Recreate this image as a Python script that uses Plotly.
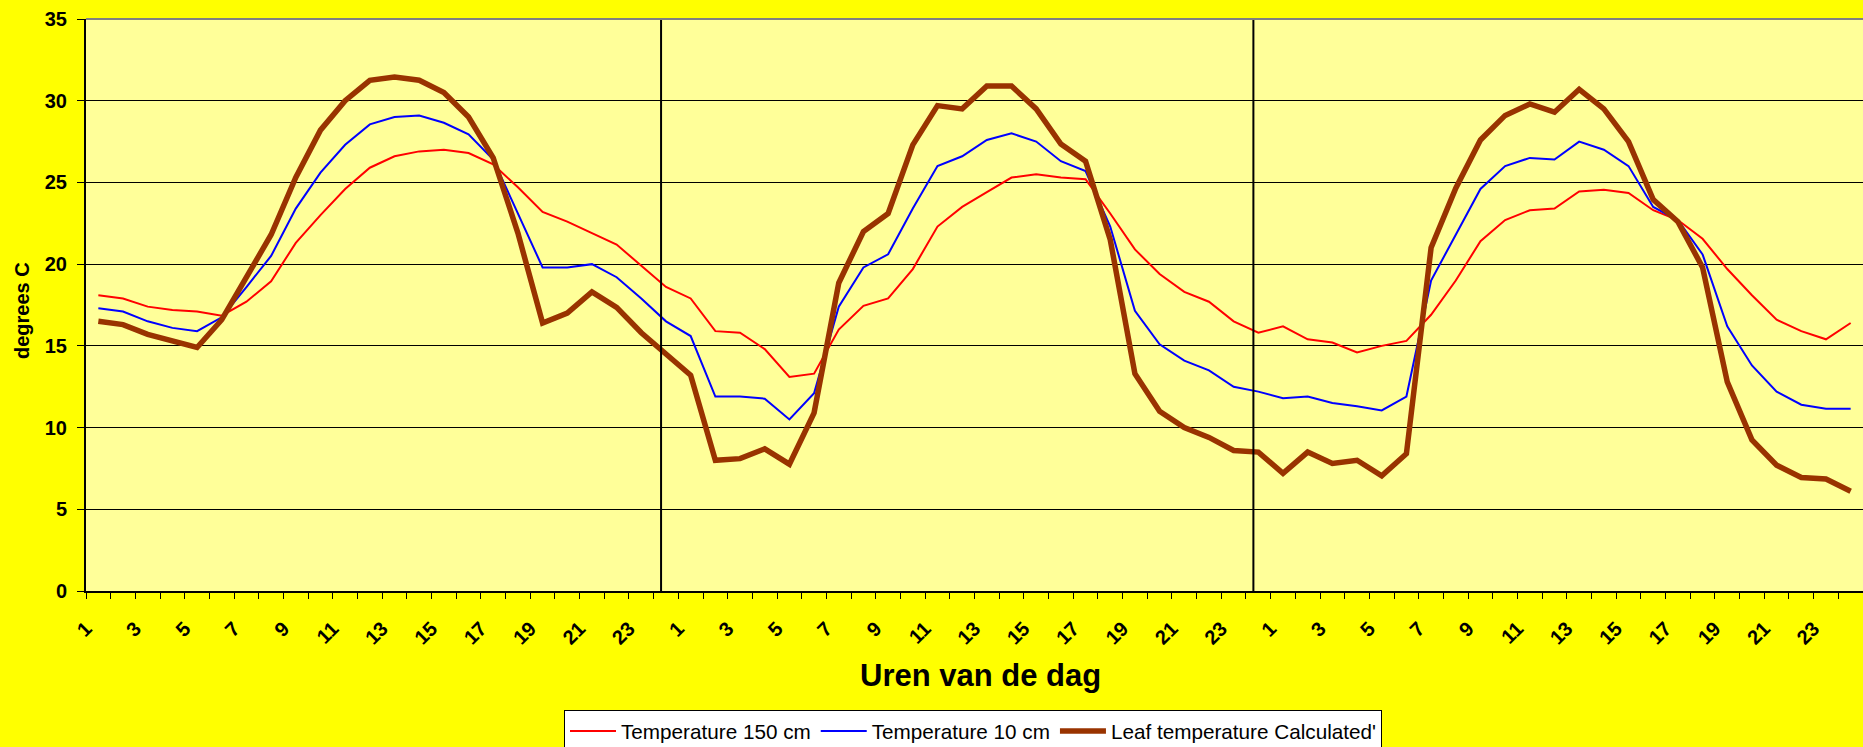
import plotly.graph_objects as go

# ---------------- data ----------------
hours = list(range(1, 25)) * 3  # three days, hourly

temp_150cm = [
    18.1, 17.9, 17.4, 17.2, 17.1, 16.85, 17.7, 18.95, 21.3, 23.0, 24.6, 25.9,
    26.6, 26.9, 27.0, 26.8, 26.1, 24.7, 23.2, 22.6, 21.9, 21.2, 19.9, 18.6,
    17.9, 15.9, 15.8, 14.8, 13.1, 13.3, 16.0, 17.45, 17.9, 19.7, 22.3, 23.5,
    24.4, 25.3, 25.5, 25.3, 25.2, 23.1, 20.9, 19.4, 18.3, 17.7, 16.5, 15.8,
    16.2, 15.4, 15.2, 14.6, 15.0, 15.3, 16.9, 19.0, 21.4, 22.7, 23.3, 23.4,
    24.45, 24.55, 24.35, 23.3, 22.7, 21.55, 19.7, 18.1, 16.6, 15.9, 15.4, 16.4,
]

temp_10cm = [
    17.3, 17.1, 16.5, 16.1, 15.9, 16.75, 18.6, 20.5, 23.4, 25.6, 27.3, 28.55,
    29.0, 29.1, 28.65, 27.95, 26.4, 23.1, 19.8, 19.8, 20.0, 19.2, 17.9, 16.5,
    15.6, 11.9, 11.9, 11.77, 10.5, 12.1, 17.4, 19.8, 20.6, 23.4, 26.0, 26.6,
    27.6, 28.0, 27.5, 26.3, 25.7, 22.3, 17.15, 15.1, 14.1, 13.5, 12.5, 12.2,
    11.8, 11.9, 11.5, 11.3, 11.05, 11.9, 19.0, 21.8, 24.6, 26.0, 26.5, 26.4,
    27.5, 27.0, 26.0, 23.5, 22.7, 20.6, 16.2, 13.8, 12.2, 11.4, 11.15, 11.15,
]

leaf_temp = [
    16.5, 16.3, 15.7, 15.26, 14.9, 16.6, 19.2, 21.8, 25.3, 28.2, 30.0, 31.25,
    31.45, 31.25, 30.5, 29.0, 26.5, 21.9, 16.4, 17.0, 18.3, 17.35, 15.8, 14.5,
    13.2, 8.0, 8.1, 8.7, 7.76, 10.9, 18.85, 22.0, 23.1, 27.3, 29.7, 29.5,
    30.9, 30.9, 29.5, 27.35, 26.3, 21.5, 13.3, 11.0, 10.0, 9.4, 8.6, 8.5,
    7.2, 8.5, 7.8, 8.0, 7.05, 8.4, 21.0, 24.65, 27.6, 29.1, 29.8, 29.3,
    30.7, 29.5, 27.5, 23.95, 22.6, 19.8, 12.8, 9.25, 7.7, 6.95, 6.85, 6.1,
]

series_names = ["Temperature 150 cm", "Temperature 10 cm", "Leaf temperature Calculated'"]
y_ticks = [0, 5, 10, 15, 20, 25, 30, 35]
day_starts = [24, 48]

# ---------------- figure ----------------
W, H = 1863, 747
FONT = "Liberation Sans, Arial, sans-serif"
x = list(range(len(hours)))

fig = go.Figure()
styles = [("#FF0000", 2), ("#0000FF", 2), ("#993300", 5.5)]
for name, vals, (col, w) in zip(series_names, [temp_150cm, temp_10cm, leaf_temp], styles):
    fig.add_trace(go.Scatter(x=x, y=vals, mode="lines", name=name,
                             line=dict(color=col, width=w)))

n = len(hours)
fig.update_xaxes(
    range=[-0.5, n - 0.5],
    tickmode="array",
    tickvals=[i - 0.5 for i in range(0, n, 2)],
    ticktext=[str(h) for h in hours[::2]],
    tickangle=-45,
    tickfont=dict(family=FONT, size=20, color="black", weight="bold"),
    ticks="outside", ticklen=6, tickcolor="black", tickwidth=1,
    ticklabelstandoff=10,
    minor=dict(tickvals=[i - 0.5 for i in range(n + 1)], ticks="outside",
               ticklen=6, tickcolor="black", tickwidth=1, showgrid=False),
    showgrid=False, zeroline=False,
    showline=True, linecolor="black", linewidth=2,
)
fig.update_yaxes(
    range=[0, 35],
    tickmode="array", tickvals=y_ticks,
    tickfont=dict(family=FONT, size=20, color="black", weight="bold"),
    ticks="outside", ticklen=7, tickcolor="black",
    ticklabelstandoff=6,
    showgrid=True, gridcolor="black", gridwidth=1,
    zeroline=False,
    showline=True, linecolor="black", linewidth=2,
)

shapes = []
for d in day_starts:
    shapes.append(dict(type="line", xref="x", yref="paper", x0=d - 1.2, x1=d - 1.2,
                       y0=0, y1=1, line=dict(color="black", width=2)))
shapes.append(dict(type="line", xref="paper", yref="paper", x0=0, x1=1, y0=1, y1=1,
                   line=dict(color="#808080", width=2)))

annotations = [
    dict(text="Uren van de dag", xref="paper", yref="paper",
         x=(980 - 86) / (W - 86), y=-(675 - 591) / (591 - 19),
         xanchor="center", yanchor="middle", showarrow=False,
         font=dict(family=FONT, size=31, color="black", weight="bold")),
    dict(text="degrees C", xref="paper", yref="paper",
         x=-(86 - 22) / (W - 86), y=(591 - 311) / (591 - 19),
         xanchor="center", yanchor="middle", showarrow=False, textangle=-90,
         font=dict(family=FONT, size=20, color="black", weight="bold")),
]

fig.update_layout(
    width=W, height=H,
    paper_bgcolor="#FFFF00", plot_bgcolor="#FFFF99",
    margin=dict(l=86, r=0, t=19, b=156, autoexpand=False),
    showlegend=True,
    legend=dict(orientation="h", xref="container", yref="container",
                x=564 / W, y=1 - 710 / H, xanchor="left", yanchor="top",
                bgcolor="white", bordercolor="black", borderwidth=1,
                itemwidth=46,
                font=dict(family=FONT, size=20.7, color="black")),
    shapes=shapes, annotations=annotations,
    font=dict(family=FONT, color="black"),
)

fig.write_html("out.html", config={"displayModeBar": False},
               post_script="document.body.style.margin='0';document.body.style.overflow='hidden';")
